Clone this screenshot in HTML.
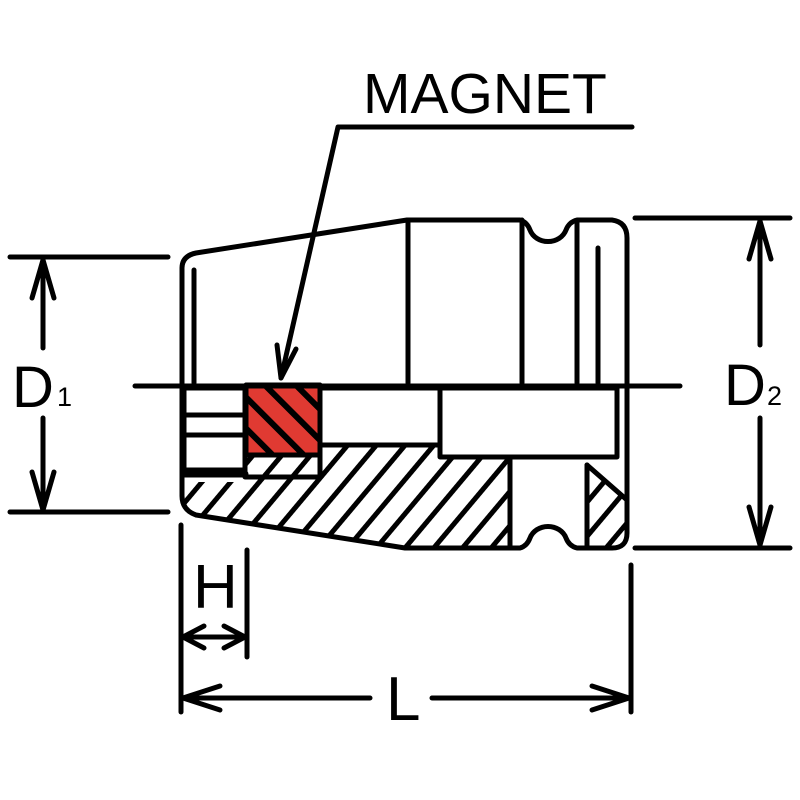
<!DOCTYPE html>
<html><head><meta charset="utf-8"><style>html,body{margin:0;padding:0;background:#fff}svg{display:block}</style></head>
<body>
<svg width="800" height="800" viewBox="0 0 800 800" xmlns="http://www.w3.org/2000/svg" font-family="Liberation Sans, Arial, sans-serif">
<defs>
<pattern id="h" patternUnits="userSpaceOnUse" width="22" height="22" patternTransform="rotate(40)">
<rect width="22" height="22" fill="#fff"/><rect x="0" y="0" width="5" height="22" fill="#000"/>
</pattern>
<pattern id="hr" patternUnits="userSpaceOnUse" width="22" height="22" patternTransform="rotate(-45)">
<rect width="22" height="22" fill="#e03a32"/><rect x="0" y="0" width="6" height="22" fill="#000"/>
</pattern>
</defs>
<g stroke="#000" stroke-width="5" fill="none" stroke-linecap="round" stroke-linejoin="round">
<path d="M184 482 L245 482 L245 477 L320 477 L320 445 L440 445 L440 457 L510 457 L510 548 L405 548 L195 515 Q184 508 184 495 Z" fill="url(#h)" stroke="none"/>
<path d="M587 465 L627 500 L627 535 Q627 548 615 548 L587 548 Z" fill="url(#h)" stroke="none"/>
<rect x="245" y="457" width="75" height="20" fill="url(#h)" stroke="none"/>
<rect x="246" y="385" width="74" height="70" fill="url(#hr)"/>
<path d="M182 385 L182 268 Q182 256 196 253 L407 220 L520 220 Q527 222 530 230 A 19 17 0 0 0 566 230 Q569 222 577 220 L612 220 Q627 222 627 238 L627 533 Q627 548 612 548 L577 548 Q569 546 566 538 A 19 17 0 0 0 530 538 Q527 546 520 548 L405 548 L196 515 Q182 510 182 496 Z"/>
<line x1="408" y1="220" x2="408" y2="383"/>
<line x1="522" y1="220" x2="522" y2="383"/>
<line x1="577" y1="222" x2="577" y2="383"/>
<line x1="598" y1="248" x2="598" y2="383"/>
<line x1="194" y1="270" x2="194" y2="383"/>
<line x1="135" y1="386" x2="680" y2="386"/>
<rect x="184" y="388" width="61" height="82"/>
<line x1="184" y1="415" x2="245" y2="415"/>
<line x1="184" y1="435" x2="245" y2="435"/>
<line x1="184" y1="474" x2="245" y2="474" stroke-width="7"/>
<rect x="245" y="455" width="75" height="22"/>
<rect x="320" y="388" width="120" height="57"/>
<rect x="440" y="388" width="177" height="69"/>
<line x1="510" y1="457" x2="510" y2="548"/>
<line x1="587" y1="465" x2="587" y2="548"/>
<line x1="587" y1="465" x2="627" y2="500"/>
<path d="M632 127 L338 127 L281 378"/>
<path d="M277 345 L281 378 L296 349"/>
<line x1="10" y1="257" x2="168" y2="257"/>
<line x1="10" y1="512" x2="168" y2="512"/>
<line x1="43" y1="260" x2="43" y2="348"/>
<line x1="43" y1="418" x2="43" y2="510"/>
<path d="M32 298 L43 260 L54 298"/>
<path d="M32 472 L43 510 L54 472"/>
<line x1="635" y1="218" x2="790" y2="218"/>
<line x1="635" y1="548" x2="790" y2="548"/>
<line x1="760" y1="221" x2="760" y2="345"/>
<line x1="760" y1="418" x2="760" y2="545"/>
<path d="M749 259 L760 221 L771 259"/>
<path d="M749 507 L760 545 L771 507"/>
<line x1="181" y1="525" x2="181" y2="712"/>
<line x1="247" y1="550" x2="247" y2="657"/>
<line x1="631" y1="565" x2="631" y2="712"/>
<line x1="183" y1="637" x2="245" y2="637"/>
<path d="M204 626 L183 637 L204 648"/>
<path d="M224 626 L245 637 L224 648"/>
<line x1="183" y1="698" x2="370" y2="698"/>
<line x1="432" y1="698" x2="629" y2="698"/>
<path d="M220 686 L183 698 L220 710"/>
<path d="M592 686 L629 698 L592 710"/>
</g>
<g fill="#000">
<text x="363" y="113" font-size="57">MAGNET</text>
<text x="12" y="407" font-size="58">D</text>
<text x="57" y="406" font-size="27">1</text>
<text x="724" y="405" font-size="58">D</text>
<text x="767" y="405" font-size="27">2</text>
<text x="193" y="608" font-size="62">H</text>
<text x="386" y="720" font-size="62">L</text>
</g>
</svg>
</body></html>
